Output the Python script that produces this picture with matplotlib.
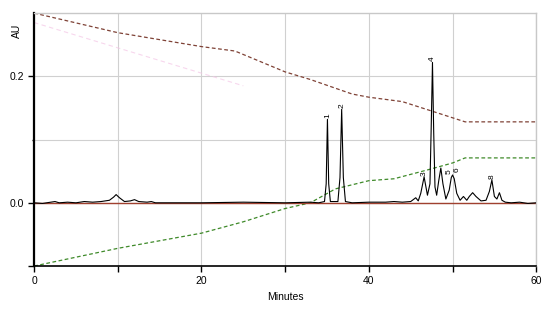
import matplotlib
matplotlib.use("Agg")
import matplotlib.pyplot as plt
import numpy as np

plt.rcParams['font.family'] = ['Liberation Sans', 'DejaVu Sans']

# gradient profile B (brown dashed)
grad_b_t = [0, 10, 20, 24, 30, 33, 38, 40, 44, 48, 51.5, 60]
grad_b_v = [0.300, 0.269, 0.247, 0.240, 0.207, 0.195, 0.172, 0.167, 0.160, 0.143, 0.128, 0.128]

# gradient profile A (green dashed)
grad_a_t = [0, 10, 20, 25, 30, 33, 36, 40, 43, 47, 50, 51.5, 60]
grad_a_v = [-0.100, -0.072, -0.048, -0.030, -0.009, 0.000, 0.022, 0.035, 0.038, 0.052, 0.063, 0.071, 0.071]

# chromatogram trace (minutes, AU)
trace_t = [0, 1, 2, 2.5, 3, 4, 5, 6, 7, 8, 9, 9.5, 9.8, 10.2, 10.8, 11.5, 12, 12.5,
           13.5, 14, 14.5, 20, 25, 30, 33, 34, 34.7, 34.9, 35.05, 35.2, 35.4,
           36.3, 36.55, 36.75, 36.95, 37.2, 38, 40, 42, 43, 44, 45, 45.6, 45.9,
           46.2, 46.6, 47.0, 47.3, 47.45, 47.6, 47.75, 47.9, 48.1, 48.35, 48.6,
           48.85, 49.2, 49.6, 49.85, 50.0, 50.2, 50.5, 50.9, 51.3, 51.7, 52.0,
           52.4, 52.8, 53.4, 54.0, 54.4, 54.7, 55.0, 55.3, 55.6, 55.9, 56.3,
           57, 58, 59, 60]
trace_v = [0, -0.001, 0.001, 0.002, 0, 0.001, 0, 0.002, 0.001, 0.002, 0.004, 0.009,
           0.013, 0.008, 0.002, 0.003, 0.005, 0.002, 0.001, 0.002, 0, 0, 0.001, 0,
           0.001, 0, 0.002, 0.030, 0.132, 0.030, 0.002, 0.002, 0.040, 0.148, 0.040,
           0.002, 0, 0.001, 0.001, 0.002, 0.001, 0.002, 0.008, 0.003, 0.015,
           0.041, 0.012, 0.030, 0.120, 0.222, 0.110, 0.025, 0.012, 0.035, 0.055,
           0.030, 0.006, 0.020, 0.040, 0.044, 0.038, 0.015, 0.004, 0.010, 0.004,
           0.010, 0.016, 0.010, 0.003, 0.004, 0.018, 0.036, 0.010, 0.006, 0.016,
           0.004, 0.001, 0, 0.001, -0.001, 0]

# peak labels
peak_t = [35.05, 36.75, 46.6, 47.6, 49.6, 50.5, 54.7]
peak_v = [0.132, 0.148, 0.041, 0.222, 0.044, 0.046, 0.036]
peak_lbl = ['1', '2', '3', '4', '5', '6', '8']

fig = plt.figure(figsize=(5.5, 3.19), dpi=100)
ax = fig.add_axes([0.062, 0.166, 0.913, 0.793])

# faint ghost line in upper left
ax.plot([0, 25], [0.285, 0.185], color='#f4c6e6', lw=0.8, ls=(0, (4, 3)), alpha=0.7)

ax.plot(grad_b_t, grad_b_v, color='#7f4236', lw=0.9, ls=(0, (3, 2)))
ax.plot(grad_a_t, grad_a_v, color='#3f8a2a', lw=0.9, ls=(0, (3, 2)))
ax.axhline(0, color='#a0402f', lw=1.0, zorder=2)
ax.plot(trace_t, trace_v, color='black', lw=0.8, zorder=3)

for t, v, s in zip(peak_t, peak_v, peak_lbl):
    ax.text(t, v + 0.002, s, rotation=90, ha='center', va='bottom', fontsize=6)

ax.set_xlim(0, 60)
ax.set_ylim(-0.1, 0.3)
ax.set_xticks([0, 20, 40, 60])
ax.set_xticks([10, 30, 50], minor=True)
ax.set_yticks([-0.1, 0.0, 0.2])
ax.set_yticklabels(['', '0.0', '0.2'])
ax.set_yticks([0.1], minor=True)
ax.tick_params(axis='both', which='both', labelsize=7.5, length=4, width=1, color='black')
ax.tick_params(axis='y', which='minor', length=1.5)
ax.grid(True, which='both', color='#d0d0d0', lw=0.8)
ax.set_axisbelow(True)

ax.spines['left'].set_linewidth(1.6)
ax.spines['bottom'].set_linewidth(1.2)
for s in ['top', 'right']:
    ax.spines[s].set_color('#c8c8c8')
    ax.spines[s].set_linewidth(1.0)

ax.set_xlabel('Minutes', fontsize=7.5, labelpad=4)
ax.text(-0.035, 0.93, 'AU', rotation=90, transform=ax.transAxes, fontsize=7.5,
        ha='center', va='center')

fig.savefig('out.png', dpi=100)
